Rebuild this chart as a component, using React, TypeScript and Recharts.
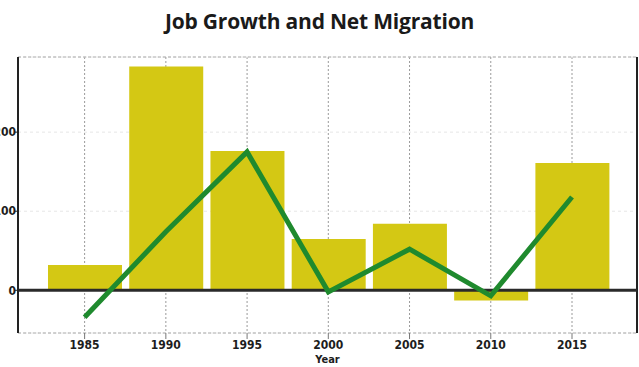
import React from 'react';
import {
  ComposedChart,
  Bar,
  Line,
  XAxis,
  YAxis,
  CartesianGrid,
  ReferenceLine,
} from 'recharts';

const years = [1985, 1990, 1995, 2000, 2005, 2010, 2015];
const jobGrowth = [32, 283, 176, 65, 84, -13, 161];
const netMigration = [-34, 74, 175, -2, 52, -7, 118];
const yTicks = [0, 100, 200];

const data = years.map((year, i) => ({
  year,
  jobs: jobGrowth[i],
  migration: netMigration[i],
}));

const axisFont = {
  fontFamily: '"DejaVu Sans Condensed", "Liberation Sans Narrow", sans-serif',
  fontWeight: 700,
  fontSize: 12,
  fill: '#1d1d1d',
};

// "Year" drawn under the tick labels
const YearLabel = (props: any) => {
  const vb = props.viewBox || {};
  return (
    <text x={(vb.x || 0) + (vb.width || 0) / 2} y={363} textAnchor="middle" {...axisFont} fontSize={11}>
      Year
    </text>
  );
};

const App: React.FC = () => (
  <div
    style={{
      position: 'absolute',
      top: 0,
      left: 0,
      width: 639,
      height: 367,
      overflow: 'hidden',
      background: '#fff',
    }}
  >
    <div
      style={{
        position: 'absolute',
        top: 7,
        left: 0,
        width: 639,
        textAlign: 'center',
        fontFamily: '"Open Sans", sans-serif',
        fontWeight: 700,
        fontSize: 21,
        color: '#1a1a1a',
        letterSpacing: -0.2,
      }}
    >
      Job Growth and Net Migration
    </div>
    <ComposedChart
      width={639}
      height={367}
      data={data}
      margin={{ top: 57, right: 2, bottom: 0, left: 0 }}
    >
      <CartesianGrid horizontal={false} stroke="#9a9a9a" strokeDasharray="2 2" />
      <CartesianGrid vertical={false} stroke="#e6e6e6" strokeDasharray="3 3" />
      <XAxis
        dataKey="year"
        type="number"
        domain={[1980.9, 2019]}
        ticks={years}
        allowDataOverflow
        height={34}
        tickSize={6}
        tickMargin={1}
        tickLine={{ stroke: '#777' }}
        axisLine={{ stroke: '#aaa', strokeDasharray: '3 2' }}
        tick={axisFont}
        label={<YearLabel />}
      />
      <YAxis
        domain={[-54, 295]}
        ticks={yTicks}
        allowDataOverflow
        width={18}
        tickSize={3}
        tickMargin={1}
        tickLine={{ stroke: '#222' }}
        axisLine={{ stroke: '#222', strokeWidth: 2 }}
        tick={{ ...axisFont, dx: 2 }}
      />
      <ReferenceLine y={295} stroke="#aaa" strokeDasharray="3 2" />
      <ReferenceLine x={2019} stroke="#222" strokeWidth={2} />
      <Bar dataKey="jobs" fill="#d4c814" barSize={74} isAnimationActive={false} />
      <ReferenceLine y={0} stroke="#2a2a2a" strokeWidth={3} />
      <Line
        type="linear"
        dataKey="migration"
        stroke="#1f8a2e"
        strokeWidth={5}
        dot={false}
        activeDot={false}
        isAnimationActive={false}
      />
    </ComposedChart>
  </div>
);

export default App;
